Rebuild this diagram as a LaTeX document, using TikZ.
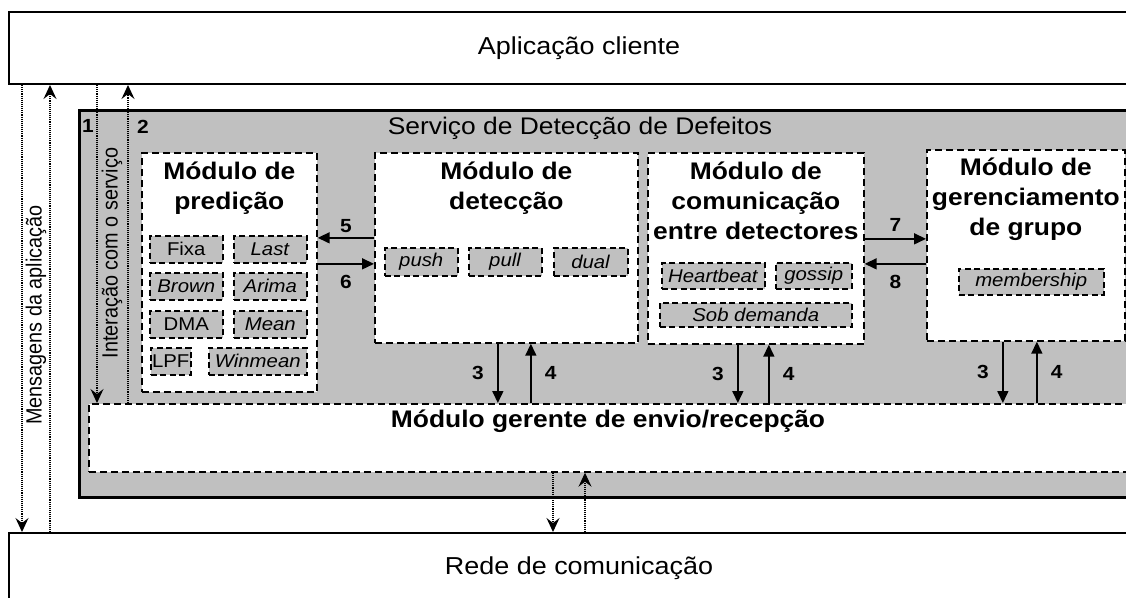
\documentclass[tikz,border=0pt]{standalone}
\usepackage{fontspec}
\setmainfont{Liberation Sans}[FakeStretch=1.1]
\newfontfamily\rotfont{Liberation Sans}[FakeStretch=0.9]
\usepackage{tikz}
\usetikzlibrary{arrows.meta}
\definecolor{cinza}{RGB}{192,192,192}

\begin{document}
\begin{tikzpicture}[x=1pt,y=-1pt,
  caixa/.style={draw, line width=2pt, inner sep=0pt, anchor=north west, font=\fontsize{24.5}{28}\selectfont},
  modulo/.style={draw, fill=white, line width=1.7pt, dash pattern=on 7pt off 4pt, inner sep=0pt, anchor=north west},
  algo/.style={draw, fill=cinza, line width=1.5pt, dash pattern=on 6pt off 3.5pt, inner sep=0pt, anchor=north west, font=\fontsize{18.5}{21}\selectfont},
  titulo/.style={align=center, font=\bfseries\fontsize{24}{30}\selectfont, anchor=north},
  num/.style={font=\bfseries\fontsize{19}{20}\selectfont},
  rot/.style={rotate=90, font=\rotfont\fontsize{22}{24}\selectfont},
  seta/.style={line width=1.6pt, -{Triangle[length=12pt,width=11pt]}},
  pont/.style={line width=1.1pt, densely dotted, -{Stealth[length=14pt,width=13pt,inset=5pt]}}
]
  \useasboundingbox (0,0) rectangle (1126,597);
  \clip (0,0) rectangle (1126,597);

  % Caixas externas
  \node[caixa, minimum width=1140pt, minimum height=72pt] (cliente) at (8,11) {Aplicação cliente};
  \node[caixa, fill=cinza, line width=2.5pt, minimum width=1100pt, minimum height=387pt] (servico) at (78,109) {};
  \node[caixa, minimum width=1140pt, minimum height=70pt] (rede) at (8,532) {Rede de comunicação};
  \node[font=\fontsize{24}{28}\selectfont] (servicotxt) at (580,128) {Serviço de Detecção de Defeitos};

  % Modulos
  \node[modulo, minimum width=175pt, minimum height=239pt] (predicao) at (141,152) {};
  \node[modulo, minimum width=263pt, minimum height=190pt] (deteccao) at (374,152) {};
  \node[modulo, minimum width=216pt, minimum height=191pt] (comunic) at (647,152) {};
  \node[modulo, minimum width=198pt, minimum height=191pt] (grupo) at (926,149) {};
  \node[modulo, minimum width=1060pt, minimum height=68pt] (gerente) at (88,403) {};

  \node[titulo] (predtit) at ([yshift=-6pt]predicao.north) {Módulo de\\predição};
  \node[titulo] (dettit) at ([yshift=-6pt]deteccao.north) {Módulo de\\detecção};
  \node[titulo] (comtit) at ([yshift=-6pt]comunic.north) {Módulo de\\comunicação\\entre detectores};
  \node[titulo] (grptit) at ([yshift=-5pt]grupo.north) {Módulo de\\gerenciamento\\de grupo};
  \node[titulo, anchor=center] (gerentetxt) at (608,421) {Módulo gerente de envio/recepção};

  % Algoritmos dentro dos modulos
  \foreach \nome/\x/\y/\w/\h/\txt in {
      fixa/149/235/73/27/Fixa, last/233/235/73/27/\textit{Last},
      brown/149/272/73/27/\textit{Brown}, arima/233/272/73/27/\textit{Arima},
      dma/149/310/73/27/DMA, mean/233/310/73/27/\textit{Mean},
      lpf/150/347/40/27/LPF, winmean/208/347/98/27/\textit{Winmean},
      push/384/247/73/28/\textit{push}, pull/468/247/73/28/\textit{pull},
      dual/553/247/74/28/\textit{dual},
      heartbeat/661/262/103/26/\textit{Heartbeat}, gossip/775/262/76/26/\textit{gossip},
      sobdem/659/302/192/24/\textit{Sob demanda},
      membership/958/268/145/26/\textit{membership}}
    \node[algo, minimum width=\w pt, minimum height=\h pt] (\nome) at (\x,\y) {\txt};

  % Setas entre modulos
  \draw[seta] ([yshift=10pt]deteccao.west) -- ([yshift=10pt]deteccao.west -| predicao.east) node[num, midway, above=1pt] {5};
  \draw[seta] ([yshift=-16pt]deteccao.west -| predicao.east) -- ([yshift=-16pt]deteccao.west) node[num, midway, below=7pt] {6};
  \draw[seta] ([yshift=9.5pt]comunic.east) -- ([yshift=9.5pt]comunic.east -| grupo.west) node[num, midway, above=3pt] {7};
  \draw[seta] ([yshift=-15.5pt]comunic.east -| grupo.west) -- ([yshift=-15.5pt]comunic.east) node[num, midway, below=7pt] {8};

  % Setas para o modulo gerente (3 e 4)
  \foreach \m/\a/\b in {deteccao/-8.5/24.5, comunic/-18/13, grupo/-23/11} {
    \draw[seta] ([xshift=\a pt]\m.south) -- ([xshift=\a pt]\m.south |- gerente.north) node[num, midway, left=10pt] {3};
    \draw[seta] ([xshift=\b pt]\m.south |- gerente.north) -- ([xshift=\b pt]\m.south) node[num, midway, right=10pt] {4};
  }

  % Mensagens e interacoes (pontilhado)
  \draw[pont] ([xshift=14pt]cliente.south west) -- ([xshift=14pt]rede.north west);
  \draw[pont] ([xshift=42pt]rede.north west) -- ([xshift=42pt]cliente.south west);
  \draw[pont] ([xshift=9pt]gerente.north west |- cliente.south) -- ([xshift=9pt]gerente.north west);
  \draw[pont] ([xshift=40pt]gerente.north west) -- ([xshift=40pt]gerente.north west |- cliente.south);
  \draw[pont] ([xshift=465pt]gerente.south west) -- ([xshift=465pt]gerente.south west |- rede.north);
  \draw[pont] ([xshift=497pt]gerente.south west |- rede.north) -- ([xshift=497pt]gerente.south west);

  \node[rot] (msgtxt) at (36,315) {Mensagens da aplicação};
  \node[rot] (intertxt) at (112,253) {Interação com o serviço};
  \node[num] (um) at (88,126) {1};
  \node[num] (dois) at (143,127) {2};
\end{tikzpicture}
\end{document}
